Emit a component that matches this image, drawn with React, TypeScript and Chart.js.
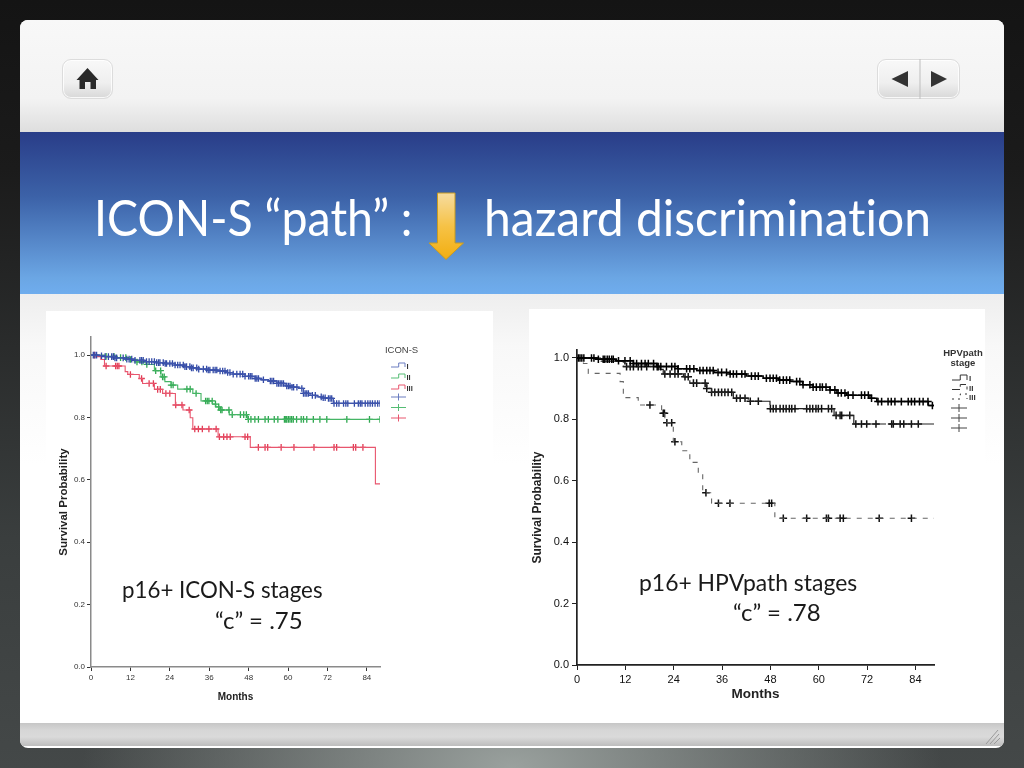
import React, { useEffect, useRef } from "react";
import { Chart, registerables } from "chart.js";

Chart.register(...registerables);

const xTickStep = 12;
const yTickStep = 0.2;

// ---- Left chart: ICON-S stages ----
const iconMonthsI = [0, 2.5, 4.3, 7.3, 10.3, 13.4, 16.4, 19.5, 22.5, 25.6, 28.6, 30.6, 32.7, 35.7, 38.8, 41.3, 43.3, 46.9, 50, 52, 54, 56.6, 59.1, 61.2, 63.2, 64.7, 66.7, 68.8, 70.6, 72.3, 73.8, 88];
const iconSurvI = [1, 0.998, 0.995, 0.991, 0.987, 0.983, 0.979, 0.976, 0.973, 0.968, 0.963, 0.959, 0.955, 0.952, 0.949, 0.944, 0.939, 0.932, 0.925, 0.921, 0.917, 0.909, 0.901, 0.897, 0.893, 0.877, 0.871, 0.866, 0.863, 0.861, 0.845, 0.845];
const iconCensorI = [0.7, 1.2, 1.7, 3.2, 4.3, 5.3, 6.3, 6.8, 7.3, 7.8, 9.8, 10.9, 11.6, 12.4, 13.4, 14.9, 15.4, 15.9, 16.9, 17.7, 18.5, 19.3, 20, 20.6, 21, 22, 22.6, 23, 24, 24.8, 25.6, 26.4, 27.1, 28.1, 28.6, 29.1, 30.1, 30.6, 31.1, 32.2, 32.8, 34.2, 35.2, 35.7, 36.2, 37.2, 37.8, 38.3, 39.3, 40.1, 40.8, 41.6, 42.3, 43.3, 44.4, 45.4, 46.2, 46.9, 48, 48.5, 49, 50, 50.5, 51, 52.5, 54.6, 55.1, 55.6, 56.6, 57.1, 57.6, 58.1, 58.6, 59.6, 60.1, 60.6, 61.2, 61.7, 62.7, 64.2, 64.7, 65.2, 65.7, 66.2, 67.4, 68.3, 70.1, 70.7, 71.3, 72.3, 72.8, 73.3, 74, 74.8, 75.5, 76.9, 77.6, 78.2, 80.2, 81.4, 82, 82.5, 83.5, 84.3, 85, 85.7, 86.5, 87.3, 88];

const iconMonthsII = [0, 4, 8, 10.7, 14, 16.8, 19.3, 21.3, 22.5, 24.4, 26.4, 31, 33.5, 37, 38, 39.1, 42.1, 47.7, 88];
const iconSurvII = [1, 0.996, 0.992, 0.986, 0.978, 0.97, 0.95, 0.93, 0.915, 0.904, 0.891, 0.877, 0.853, 0.843, 0.834, 0.824, 0.809, 0.794, 0.794];
const iconCensorII = [4.6, 7, 9, 10.6, 12, 14, 15.5, 17, 19.7, 21.2, 21.8, 22.3, 24.4, 25, 29.2, 30.2, 32, 34.9, 35.4, 35.9, 36.9, 37.9, 38.9, 39.5, 39.9, 42, 43, 45.5, 46.5, 47.3, 47.9, 48.7, 49.9, 50.98, 53, 54, 55.8, 56.9, 58.9, 59.3, 59.6, 60.1, 60.6, 61.1, 61.6, 62.6, 64, 64.7, 65.7, 67.7, 69.7, 71.8, 77.9, 84.8, 88];

const iconMonthsIII = [0, 1.5, 3, 4.1, 10.4, 11.2, 14.7, 15.7, 19.3, 21.8, 25.7, 28, 30.2, 31, 38.7, 48.5, 86.6, 88];
const iconSurvIII = [1, 0.995, 0.986, 0.965, 0.947, 0.938, 0.925, 0.909, 0.89, 0.877, 0.84, 0.824, 0.799, 0.763, 0.738, 0.704, 0.587, 0.587];
const iconCensorIII = [1, 4.6, 7.5, 8, 8.5, 12, 15.4, 17.7, 19, 20.3, 21.1, 22.8, 24, 25.8, 27.7, 29.9, 31.6, 32.7, 33.9, 35.9, 38.1, 39.1, 40.4, 41.4, 42.4, 46.9, 47.7, 50.96, 53, 53.8, 57.9, 61.8, 67.9, 74, 74.8, 79.9, 80.6, 82.8];

// ---- Right chart: HPVpath stages ----
const hpvMonthsI = [0, 5, 9.8, 14, 19.8, 25, 29.7, 34, 38, 42, 46.2, 50, 52.9, 56, 58.6, 62.8, 64.5, 66.9, 72.7, 74.4, 86.4, 87.2, 88.8];
const hpvSurvI = [1, 0.996, 0.991, 0.982, 0.972, 0.965, 0.959, 0.953, 0.948, 0.941, 0.934, 0.928, 0.923, 0.913, 0.905, 0.896, 0.886, 0.879, 0.869, 0.858, 0.858, 0.845, 0.845];
const hpvCensorI = [0.33, 0.74, 1.2, 1.7, 3.6, 4.2, 5.3, 6.5, 6.9, 7.5, 8, 8.6, 9, 10.3, 11.9, 13.2, 14, 14.8, 16, 16.9, 17.7, 19, 19.9, 20.8, 22.2, 23.5, 24.3, 25.1, 27.2, 28, 29, 30.5, 31.3, 32.2, 33, 33.8, 35, 35.9, 37.1, 38, 38.8, 39.6, 40.9, 41.7, 43.3, 44.2, 45, 47, 47.9, 48.7, 49.5, 50.3, 51.2, 52, 52.8, 54.5, 55.3, 56.1, 57.8, 58.6, 59.4, 60.3, 60.9, 61.8, 62.8, 64, 64.8, 65.6, 66.5, 67.3, 68.5, 70.6, 71.4, 72.3, 73.1, 74.7, 75.6, 77.2, 78, 78.9, 80.5, 82.2, 83, 83.8, 85, 85.9, 87.1, 88.2];

const hpvMonthsII = [0, 6, 11.5, 20.6, 21.4, 26.4, 28, 32.2, 33.4, 38.8, 42.5, 47.9, 63.8, 68.7, 88.8];
const hpvSurvII = [1, 0.99, 0.972, 0.963, 0.948, 0.939, 0.918, 0.901, 0.888, 0.869, 0.859, 0.835, 0.813, 0.785, 0.785];
const hpvCensorII = [12.3, 13.2, 14, 15.2, 16, 17.3, 19, 20.2, 21.8, 23.1, 24.3, 25.1, 26.8, 27.6, 28.9, 29.7, 31.8, 32.2, 33.4, 34.2, 35.1, 35.9, 36.7, 37.5, 38.4, 39.6, 40.5, 41.7, 43, 45, 48, 48.7, 49.4, 50.4, 51.2, 51.9, 52.7, 53.3, 54.1, 57, 57.8, 58.5, 59.3, 59.9, 60.7, 62.4, 63.2, 64.3, 65.3, 65.7, 67.7, 69.2, 70.6, 71.9, 74.2, 78.1, 78.5, 80.2, 81.1, 83, 84.7];

const hpvMonthsIII = [0, 1.6, 2.8, 10.7, 11.5, 15.2, 21, 21.8, 23.9, 26, 28, 30.1, 31.2, 33.4, 49.1, 88.8];
const hpvSurvIII = [1, 0.982, 0.95, 0.923, 0.871, 0.847, 0.82, 0.789, 0.727, 0.698, 0.66, 0.624, 0.561, 0.527, 0.478, 0.478];
const hpvCensorIII = [18.1, 21.4, 21.7, 22.3, 23.5, 24.3, 32, 35.1, 37.96, 47.7, 48.3, 51.2, 57, 61.9, 62.4, 65.3, 66.1, 75, 83];

const toLine = (months: number[], surv: number[]) => months.map((m, i) => ({ x: m, y: surv[i] }));
const toCensor = (times: number[], months: number[], surv: number[]) =>
  times.map((t) => {
    let v = surv[0];
    for (let i = 0; i < months.length; i++) if (months[i] <= t) v = surv[i];
    return { x: t, y: v };
  });

type Curve = { months: number[]; surv: number[]; censor: number[]; color: string; markColor: string; width: number; dash: number[] };

type Cfg = {
  curves: Curve[];
  xMax: number; yMax: number;
  padTop: number; padRight: number; yWidth: number; xHeight: number;
  axisColor: string; tickColor: string; textColor: string;
  axisWidth: number; tickLen: number; tickFont: number; tickWeight: string; tickPadX: number; tickPadY: number;
  yTitleFont: number; xTitleFont: number; yTitlePad: number; xTitlePad: number;
  crossR: number; crossW: number;
};

const FONT = "'Liberation Sans', Arial, sans-serif";

function KM({ cfg, style }: { cfg: Cfg; style: React.CSSProperties }) {
  const ref = useRef<HTMLCanvasElement>(null);
  useEffect(() => {
    const datasets: any[] = [];
    cfg.curves.forEach((c, i) => {
      datasets.push({
        type: "line", label: "Stage " + "I".repeat(3 - i),
        data: toLine(c.months, c.surv), stepped: true, borderColor: c.color, borderWidth: c.width,
        borderDash: c.dash, pointRadius: 0, fill: false, order: 3 - i,
      });
      datasets.push({
        type: "scatter", label: "Censored " + "I".repeat(3 - i),
        data: toCensor(c.censor, c.months, c.surv), showLine: false, pointStyle: "cross",
        pointRadius: cfg.crossR, pointHoverRadius: cfg.crossR, pointBorderColor: c.markColor, pointBackgroundColor: c.markColor,
        pointBorderWidth: cfg.crossW, order: 3 - i,
      });
    });
    const chart = new Chart(ref.current!, {
      type: "scatter",
      data: { datasets },
      options: {
        animation: false, responsive: false,
        layout: { padding: { top: cfg.padTop, right: cfg.padRight, left: 0, bottom: 0 } },
        plugins: { legend: { display: false }, tooltip: { enabled: false } },
        scales: {
          x: {
            type: "linear", min: 0, max: cfg.xMax,
            border: { color: cfg.axisColor, width: cfg.axisWidth },
            grid: { drawOnChartArea: false, drawTicks: true, tickLength: cfg.tickLen, tickColor: cfg.tickColor },
            ticks: { stepSize: xTickStep, includeBounds: false, maxRotation: 0, autoSkip: false, padding: cfg.tickPadX, color: cfg.textColor, font: { family: FONT, size: cfg.tickFont, weight: cfg.tickWeight } },
            title: { display: true, text: "Months", color: "#222", font: { family: FONT, size: cfg.xTitleFont, weight: "bold" }, padding: { top: 0, bottom: cfg.xTitlePad } },
            afterFit: (s: any) => { s.height = cfg.xHeight; },
          },
          y: {
            type: "linear", min: 0, max: cfg.yMax,
            border: { color: cfg.axisColor, width: cfg.axisWidth },
            grid: { drawOnChartArea: false, drawTicks: true, tickLength: cfg.tickLen, tickColor: cfg.tickColor },
            ticks: { stepSize: yTickStep, includeBounds: false, padding: cfg.tickPadY, color: cfg.textColor, callback: (v: any) => Number(v).toFixed(1), font: { family: FONT, size: cfg.tickFont, weight: cfg.tickWeight } },
            title: { display: true, text: "Survival Probability", color: "#222", font: { family: FONT, size: cfg.yTitleFont, weight: "bold" }, padding: { top: cfg.yTitlePad, bottom: 0 } },
            afterFit: (s: any) => { s.width = cfg.yWidth; },
          },
        },
      } as any,
    });
    return () => chart.destroy();
  }, [cfg]);
  return <canvas ref={ref} width={style.width as number} height={style.height as number} style={{ position: "absolute", filter: "blur(0.55px)", ...style }} />;
}

const leftCfg: Cfg = {
  curves: [
    { months: iconMonthsIII, surv: iconSurvIII, censor: iconCensorIII, color: "#e8566e", markColor: "#e23c55", width: 1.1, dash: [] },
    { months: iconMonthsII, surv: iconSurvII, censor: iconCensorII, color: "#45b565", markColor: "#2fa850", width: 1.1, dash: [] },
    { months: iconMonthsI, surv: iconSurvI, censor: iconCensorI, color: "#3f55ad", markColor: "#324aa6", width: 1.3, dash: [] },
  ],
  xMax: 88, yMax: 1.058, padTop: 26, padRight: 113, yWidth: 45, xHeight: 56,
  axisColor: "#8a8a8a", tickColor: "#333", textColor: "#333", axisWidth: 1.5, tickLen: 4, tickFont: 8, tickWeight: "normal", tickPadX: 2, tickPadY: 2,
  yTitleFont: 11.5, xTitleFont: 10, yTitlePad: 11, xTitlePad: 20, crossR: 3.3, crossW: 1.3,
};

const rightCfg: Cfg = {
  curves: [
    { months: hpvMonthsIII, surv: hpvSurvIII, censor: hpvCensorIII, color: "#666", markColor: "#111", width: 1.1, dash: [5, 6] },
    { months: hpvMonthsII, surv: hpvSurvII, censor: hpvCensorII, color: "#222", markColor: "#111", width: 1.2, dash: [24, 3] },
    { months: hpvMonthsI, surv: hpvSurvI, censor: hpvCensorI, color: "#000", markColor: "#000", width: 1.5, dash: [] },
  ],
  xMax: 88.6, yMax: 1.026, padTop: 41, padRight: 51, yWidth: 48, xHeight: 58,
  axisColor: "#222", tickColor: "#222", textColor: "#111", axisWidth: 1.7, tickLen: 5, tickFont: 11, tickWeight: "normal", tickPadX: 3, tickPadY: 3,
  yTitleFont: 12, xTitleFont: 13.5, yTitlePad: 1, xTitlePad: 21, crossR: 3.8, crossW: 1.5,
};

const abs = (left: number, top: number, width: number, height: number): React.CSSProperties => ({ position: "absolute", left, top, width, height });

const Label = ({ x, y, size, sx = 1, children, color = "#1a1a1a" }: any) => (
  <div style={{ position: "absolute", left: x, top: y, fontFamily: "Lato, sans-serif", fontVariantLigatures: "none", fontSize: size, color, whiteSpace: "nowrap", lineHeight: 1, transform: `scaleX(${sx})`, transformOrigin: "left top" }}>{children}</div>
);

const stepPath = (x: number, y: number, w: number, h: number) => `M${x} ${y}H${x + w * 0.55}V${y - h}H${x + w}V${y}`;

function LeftLegend() {
  const colors = ["#6a7cc0", "#55bd74", "#e8566e"];
  const names = ["I", "II", "III"];
  return (
    <svg style={{ position: "absolute", left: 375, top: 335, filter: "blur(0.4px)" }} width={60} height={95} viewBox="375 335 60 95" fontFamily={FONT}>
      <text x={401.5} y={352.5} textAnchor="middle" fontSize={9.5} fill="#444">ICON-S</text>
      {names.map((n, i) => (
        <g key={n}>
          <path d={stepPath(391, 367 + i * 11, 14, 4)} fill="none" stroke={colors[i]} strokeWidth={1} />
          <text x={406.5} y={369 + i * 11} fontSize={7.5} fontWeight="bold" fill="#333">{n}</text>
          <path d={`M391 ${397 + i * 10.5}H406M398.5 ${393.5 + i * 10.5}V${400.5 + i * 10.5}`} stroke={colors[i]} strokeWidth={1} />
        </g>
      ))}
    </svg>
  );
}

function RightLegend() {
  const names = ["I", "II", "III"];
  const dash = ["", "8 3", "2 4"];
  const ys = [380, 389.5, 399];
  return (
    <svg style={{ position: "absolute", left: 935, top: 350, filter: "blur(0.4px)" }} width={50} height={90} viewBox="935 350 50 90" fontFamily={FONT}>
      <text x={963} y={356} textAnchor="middle" fontSize={9.5} fontWeight="bold" fill="#333">HPVpath</text>
      <text x={963} y={366} textAnchor="middle" fontSize={9.5} fontWeight="bold" fill="#333">stage</text>
      {names.map((n, i) => (
        <g key={n}>
          <path d={stepPath(952, ys[i], 15, 5)} fill="none" stroke="#333" strokeWidth={1} strokeDasharray={dash[i]} />
          <text x={969} y={ys[i] + 1} fontSize={8} fontWeight="bold" fill="#333">{n}</text>
          <path d={`M951 ${408 + i * 10}H967M959 ${404 + i * 10}V${412 + i * 10}`} stroke="#444" strokeWidth={1} />
        </g>
      ))}
    </svg>
  );
}

export default function App() {
  const btn: React.CSSProperties = { background: "linear-gradient(#f8f8f8, #efefef 60%, #d8d8d8)", border: "1px solid #dcdcdc", borderRadius: 9, boxShadow: "inset 0 0 0 1px rgba(255,255,255,.8)", boxSizing: "border-box" };
  return (
    <div style={{ position: "fixed", left: 0, top: 0, width: 1024, height: 768, overflow: "hidden", background: "radial-gradient(ellipse 42% 30% at 50% 100%, #9aa19e 0%, rgba(154,161,158,0) 100%), linear-gradient(#141414 0%, #1b1b1b 22%, #3a3e3e 70%, #444848 100%)" }}>
      <div style={{ ...abs(20, 20, 984, 728), borderRadius: 8, overflow: "hidden", background: "#fff" }}>
        <div style={{ ...abs(0, 0, 984, 112), background: "linear-gradient(#f8f8f8 0%, #f3f3f3 70%, #dedede 100%)" }} />
        <div style={{ ...abs(0, 112, 986, 162), background: "linear-gradient(#293d88 0%, #3c62a8 40%, #6ba6e4 90%, #6fadee 100%)" }} />
        <div style={{ ...abs(0, 274, 984, 429), background: "linear-gradient(#eeeeee 0%, #f8f8f8 12%, #ffffff 40%)" }} />
        <div style={{ ...abs(0, 703, 984, 23), background: "linear-gradient(#c6c6c6 0%, #d6d6d6 30%, #dadada 60%, #bdbdbd 100%)" }} />
        <svg style={{ position: "absolute", left: 960, top: 706 }} width={22} height={20} viewBox="0 0 22 20">
          <path d="M6 18L18 4M10 18L19 8M14 18L20 12" stroke="#9a9a9a" strokeWidth={1} fill="none" />
        </svg>
      </div>

      {/* navigation buttons */}
      <div style={{ ...abs(62, 59, 51, 40), ...btn }} />
      <svg style={{ position: "absolute", left: 70, top: 62 }} width={36} height={32} viewBox="70 62 36 32">
        <path d="M87.5 68L98.5 80H96V89H90.5V82H85V89H79.5V80H76.5Z" fill="#2a2a2a" />
      </svg>
      <div style={{ ...abs(877, 59, 83, 40), ...btn }} />
      <svg style={{ position: "absolute", left: 877, top: 59 }} width={83} height={40} viewBox="877 59 83 40">
        <path d="M920 59V99" stroke="#bdbdbd" />
        <path d="M908 71V87L891.5 79Z" fill="#333" />
        <path d="M931 71V87L947 79Z" fill="#333" />
      </svg>

      {/* title */}
      <Label x={94} y={192} size={50} sx={0.93} color="#fff">ICON-S “path” :</Label>
      <Label x={484} y={192} size={50} sx={0.96} color="#fff">hazard discrimination</Label>
      <svg style={{ position: "absolute", left: 425, top: 190 }} width={45} height={74} viewBox="425 190 45 74">
        <defs>
          <linearGradient id="arrowGrad" x1="0" y1="0" x2="0" y2="1">
            <stop offset="0" stopColor="#f6dca0" />
            <stop offset="0.5" stopColor="#f6c246" />
            <stop offset="1" stopColor="#f2ae10" />
          </linearGradient>
        </defs>
        <path d="M437.5 193H455V243H463.5L446 259.5L429 243H437.5Z" fill="url(#arrowGrad)" stroke="#c69a22" strokeWidth={1} />
      </svg>

      {/* chart panels */}
      <div style={{ ...abs(46, 311, 447, 412), background: "#fff" }} />
      <div style={{ ...abs(529, 309, 456, 414), background: "#fff" }} />
      <KM cfg={leftCfg} style={{ left: 46, top: 311, width: 447, height: 412 }} />
      <KM cfg={rightCfg} style={{ left: 529, top: 309, width: 456, height: 414 }} />
      <LeftLegend />
      <RightLegend />

      {/* annotations */}
      <Label x={122} y={577} size={24} sx={0.93}>p16+ ICON-S stages</Label>
      <Label x={215} y={608} size={24} sx={1}>“c” = .75</Label>
      <Label x={639} y={570} size={24} sx={0.955}>p16+ HPVpath stages</Label>
      <Label x={733} y={600} size={24} sx={1}>“c” = .78</Label>
    </div>
  );
}
